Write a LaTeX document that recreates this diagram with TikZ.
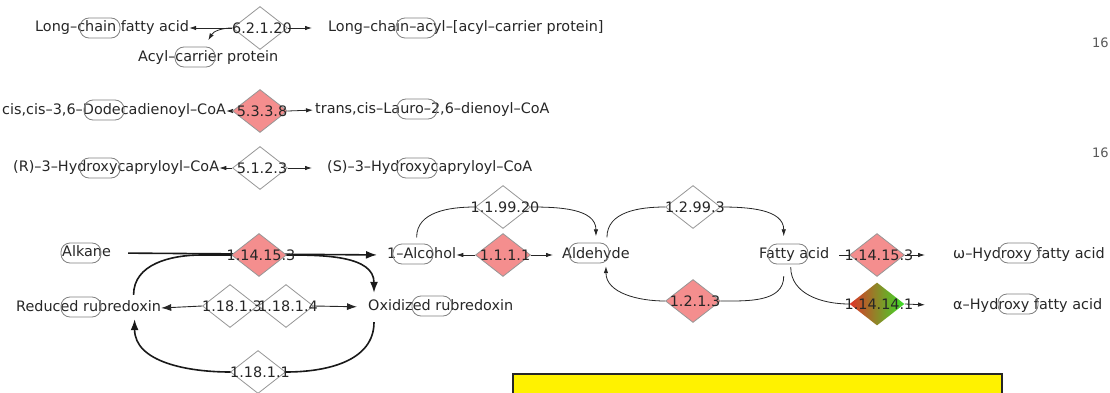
\documentclass[tikz,border=0pt]{standalone}
\usepackage{fontspec}
\setmainfont{DejaVu Sans}
\usepackage{xcolor}
\usetikzlibrary{arrows.meta, shapes.geometric, backgrounds, calc}
\definecolor{enzred}{RGB}{244,142,142}
\definecolor{enzline}{RGB}{150,150,150}
\definecolor{cpdline}{RGB}{128,128,128}
\definecolor{gradred}{RGB}{222,52,40}
\definecolor{gradgreen}{RGB}{58,222,40}
\tikzset{> = { Latex[length = 7pt, width = 4.5pt] }}
\tikzset{
	cpd/.style = {text = black!85, anchor = west, inner sep = 0pt, text height = 10pt, text depth = 3pt},
	cpdring/.style = {draw = cpdline, line width = 0.8pt, rounded corners = 9pt, minimum width = 40pt, minimum height = 20pt, inner sep = 0pt},
	enzyme/.style = {diamond, draw = enzline, line width = 0.8pt, fill = white, minimum width = 55pt, minimum height = 43pt, inner sep = 0pt, label = {[text = black!85, inner sep = 0pt, xshift = 2pt]center:#1}},
	rxn/.style = {->, line width = 0.8pt, black!85},
	rxnbig/.style = {-{Latex[length = 10pt, width = 7pt]}, line width = 0.9pt, black!85},
	rub/.style = {-{Latex[length = 11pt, width = 8pt]}, line width = 1.6pt, black!90},
	idx/.style = {text = black!65, anchor = west, inner sep = 0pt, font = \fontsize{13}{15}\selectfont},
}

\begin{document}
\begin{tikzpicture}[x = 1pt, y = -1pt, font = \fontsize{14.4}{16}\selectfont]
	\useasboundingbox (0, 0) rectangle (1110, 393);

	% enzymes
	\node [enzyme = 6.2.1.20] (e62120) at (260, 28) {};
	\node [enzyme = 5.3.3.8, fill = enzred] (e5338) at (260, 111) {};
	\node [enzyme = 5.1.2.3] (e5123) at (260, 168) {};
	\node [enzyme = 1.14.15.3, fill = enzred] (e11153a) at (259, 255) {};
	\node [enzyme = 1.18.1.3] (e18113) at (230, 306) {};
	\node [enzyme = 1.18.1.4] (e18114) at (286, 306) {};
	\node [enzyme = 1.18.1.1] (e18111) at (258, 372) {};
	\node [enzyme = 1.1.1.1, fill = enzred] (e1111) at (503, 255) {};
	\node [enzyme = 1.1.99.20] (e119920) at (503, 207) {};
	\node [enzyme = 1.2.99.3] (e12993) at (693, 207) {};
	\node [enzyme = 1.2.1.3, fill = enzred] (e1213) at (693, 301) {};
	\node [enzyme = 1.14.15.3, fill = enzred] (e11153b) at (877, 255) {};
	\node [enzyme = 1.14.14.1, draw = none, left color = gradred, right color = gradgreen] (e111441) at (877, 304) {};

	% compounds
	\node [cpd] (lcfa) at (35, 28) {Long--chain fatty acid};
	\node [cpdring] (lcfaring) at (100, 28) {};
	\node [cpd] (acp) at (138, 58) {Acyl--carrier protein};
	\node [cpdring] (acpring) at (195, 57) {};
	\node [cpd] (lcacp) at (328, 28) {Long--chain--acyl--[acyl--carrier protein]};
	\node [cpdring] (lcacpring) at (416, 28) {};
	\node [cpd] (dodec) at (2, 111) {cis,cis--3,6--Dodecadienoyl--CoA};
	\node [cpdring] (dodecring) at (104, 110) {};
	\node [cpd] (lauro) at (315, 110) {trans,cis--Lauro--2,6--dienoyl--CoA};
	\node [cpdring] (lauroring) at (417, 109) {};
	\node [cpd] (rhc) at (13, 168) {(R)--3--Hydroxycapryloyl--CoA};
	\node [cpdring] (rhcring) at (100, 168) {};
	\node [cpd] (shc) at (327, 168) {(S)--3--Hydroxycapryloyl--CoA};
	\node [cpdring] (shcring) at (417, 168) {};
	\node [cpd] (alkane) at (62, 253) {Alkane};
	\node [cpdring] (alkanering) at (81, 253) {};
	\node [cpd] (redrub) at (16, 308) {Reduced rubredoxin};
	\node [cpdring] (redrubring) at (81, 307) {};
	\node [cpd] (alcohol) at (387, 255) {1--Alcohol};
	\node [cpdring] (alcoholring) at (413, 254) {};
	\node [cpd] (oxrub) at (368, 307) {Oxidized rubredoxin};
	\node [cpdring] (oxrubring) at (432, 306) {};
	\node [cpd] (ald) at (562, 255) {Aldehyde};
	\node [cpdring] (aldring) at (589, 253) {};
	\node [cpd] (fatty) at (759, 255) {Fatty acid};
	\node [cpdring] (fattyring) at (788, 254) {};
	\node [cpd] (ohfa) at (953, 255) {ω--Hydroxy fatty acid};
	\node [cpdring] (ohfaring) at (1019, 253) {};
	\node [cpd] (ahfa) at (953, 306) {α--Hydroxy fatty acid};
	\node [cpdring] (ahfaring) at (1018, 304) {};

	\node [idx] (idx1) at (1092, 43) {16};
	\node [idx] (idx2) at (1092, 153) {16};

	\node [draw = black!85, line width = 1.5pt, fill = yellow, anchor = north west, minimum width = 489pt, minimum height = 40pt] (legend) at (512, 373) {};

	\begin{scope}[on background layer]
		\draw [rxn] (e62120.west) -- (lcfa.east);
		\draw [rxn, shorten > = 16pt] (e62120.east) -- (lcacp.west);
		\draw [rxn] (e62120.west) to[out = 180, in = 60] ([yshift = 11pt]acp.north);
		\draw [rxn] (e5338.west) -- (dodec.east);
		\draw [rxn, shorten > = 2pt] (e5338.east) -- (lauro.west);
		\draw [rxn] (e5123.west) -- (rhc.east);
		\draw [rxn, shorten > = 15pt] (e5123.east) -- (shc.west);

		\draw [rub, shorten < = 17pt, shorten > = 10pt] (alkane.east) -- (alcohol.west);
		\draw [rub] ([xshift = 45pt, yshift = 6.5pt]redrub.north) to[out = 90, in = 180] ([xshift = -30pt]e11153a.west) -- (e11153a.east) to[out = 0, in = 90] ([xshift = 6pt, yshift = 7.5pt]oxrub.north west);
		\draw [rub] ([xshift = 6pt, yshift = -8.5pt]oxrub.south west) to[out = -90, in = 0] (e18111.east) -- (e18111.west) to[out = 180, in = -90] ([xshift = 46pt, yshift = -4.5pt]redrub.south);
		\draw [rxnbig] (e18113.west) -- (redrub.east);
		\draw [rxnbig, shorten > = 11pt] (e18114.east) -- (oxrub.west);

		\draw [rxn] (e1111.west) -- (alcohol.east);
		\draw [rxn, shorten > = 9pt] (e1111.east) -- (ald.west);
		\draw [line width = 0.8pt, black!85] ([xshift = -5pt, yshift = 11pt]alcohol.north) to[out = 90, in = 180] (e119920.west);
		\draw [rxn] (e119920.east) to[out = 0, in = 90] ([yshift = 12pt]ald.north);
		\draw [line width = 0.8pt, black!85] ([xshift = 11pt, yshift = 11pt]ald.north) to[out = 90, in = 180] (e12993.west);
		\draw [rxn] (e12993.east) to[out = 0, in = 90] ([xshift = -10.5pt, yshift = 12pt]fatty.north);
		\draw [line width = 0.8pt, black!85] ([xshift = -10.5pt, yshift = -14.5pt]fatty.south) to[out = -90, in = 0] (e1213.east);
		\draw [rxn] (e1213.west) to[out = 180, in = -90] ([xshift = 10pt, yshift = -4.5pt]ald.south);

		\draw [line width = 0.8pt, black!85, shorten < = 10pt] (fatty.east) -- (e11153b.west);
		\draw [rxn, shorten > = 28pt] (e11153b.east) -- (ohfa.west);
		\draw [line width = 0.8pt, black!85] ([xshift = -3.5pt, yshift = -5.5pt]fatty.south) to[out = -90, in = 180] (e111441.west);
		\draw [rxn, shorten > = 28pt] (e111441.east) -- (ahfa.west);
	\end{scope}
\end{tikzpicture}
\end{document}
